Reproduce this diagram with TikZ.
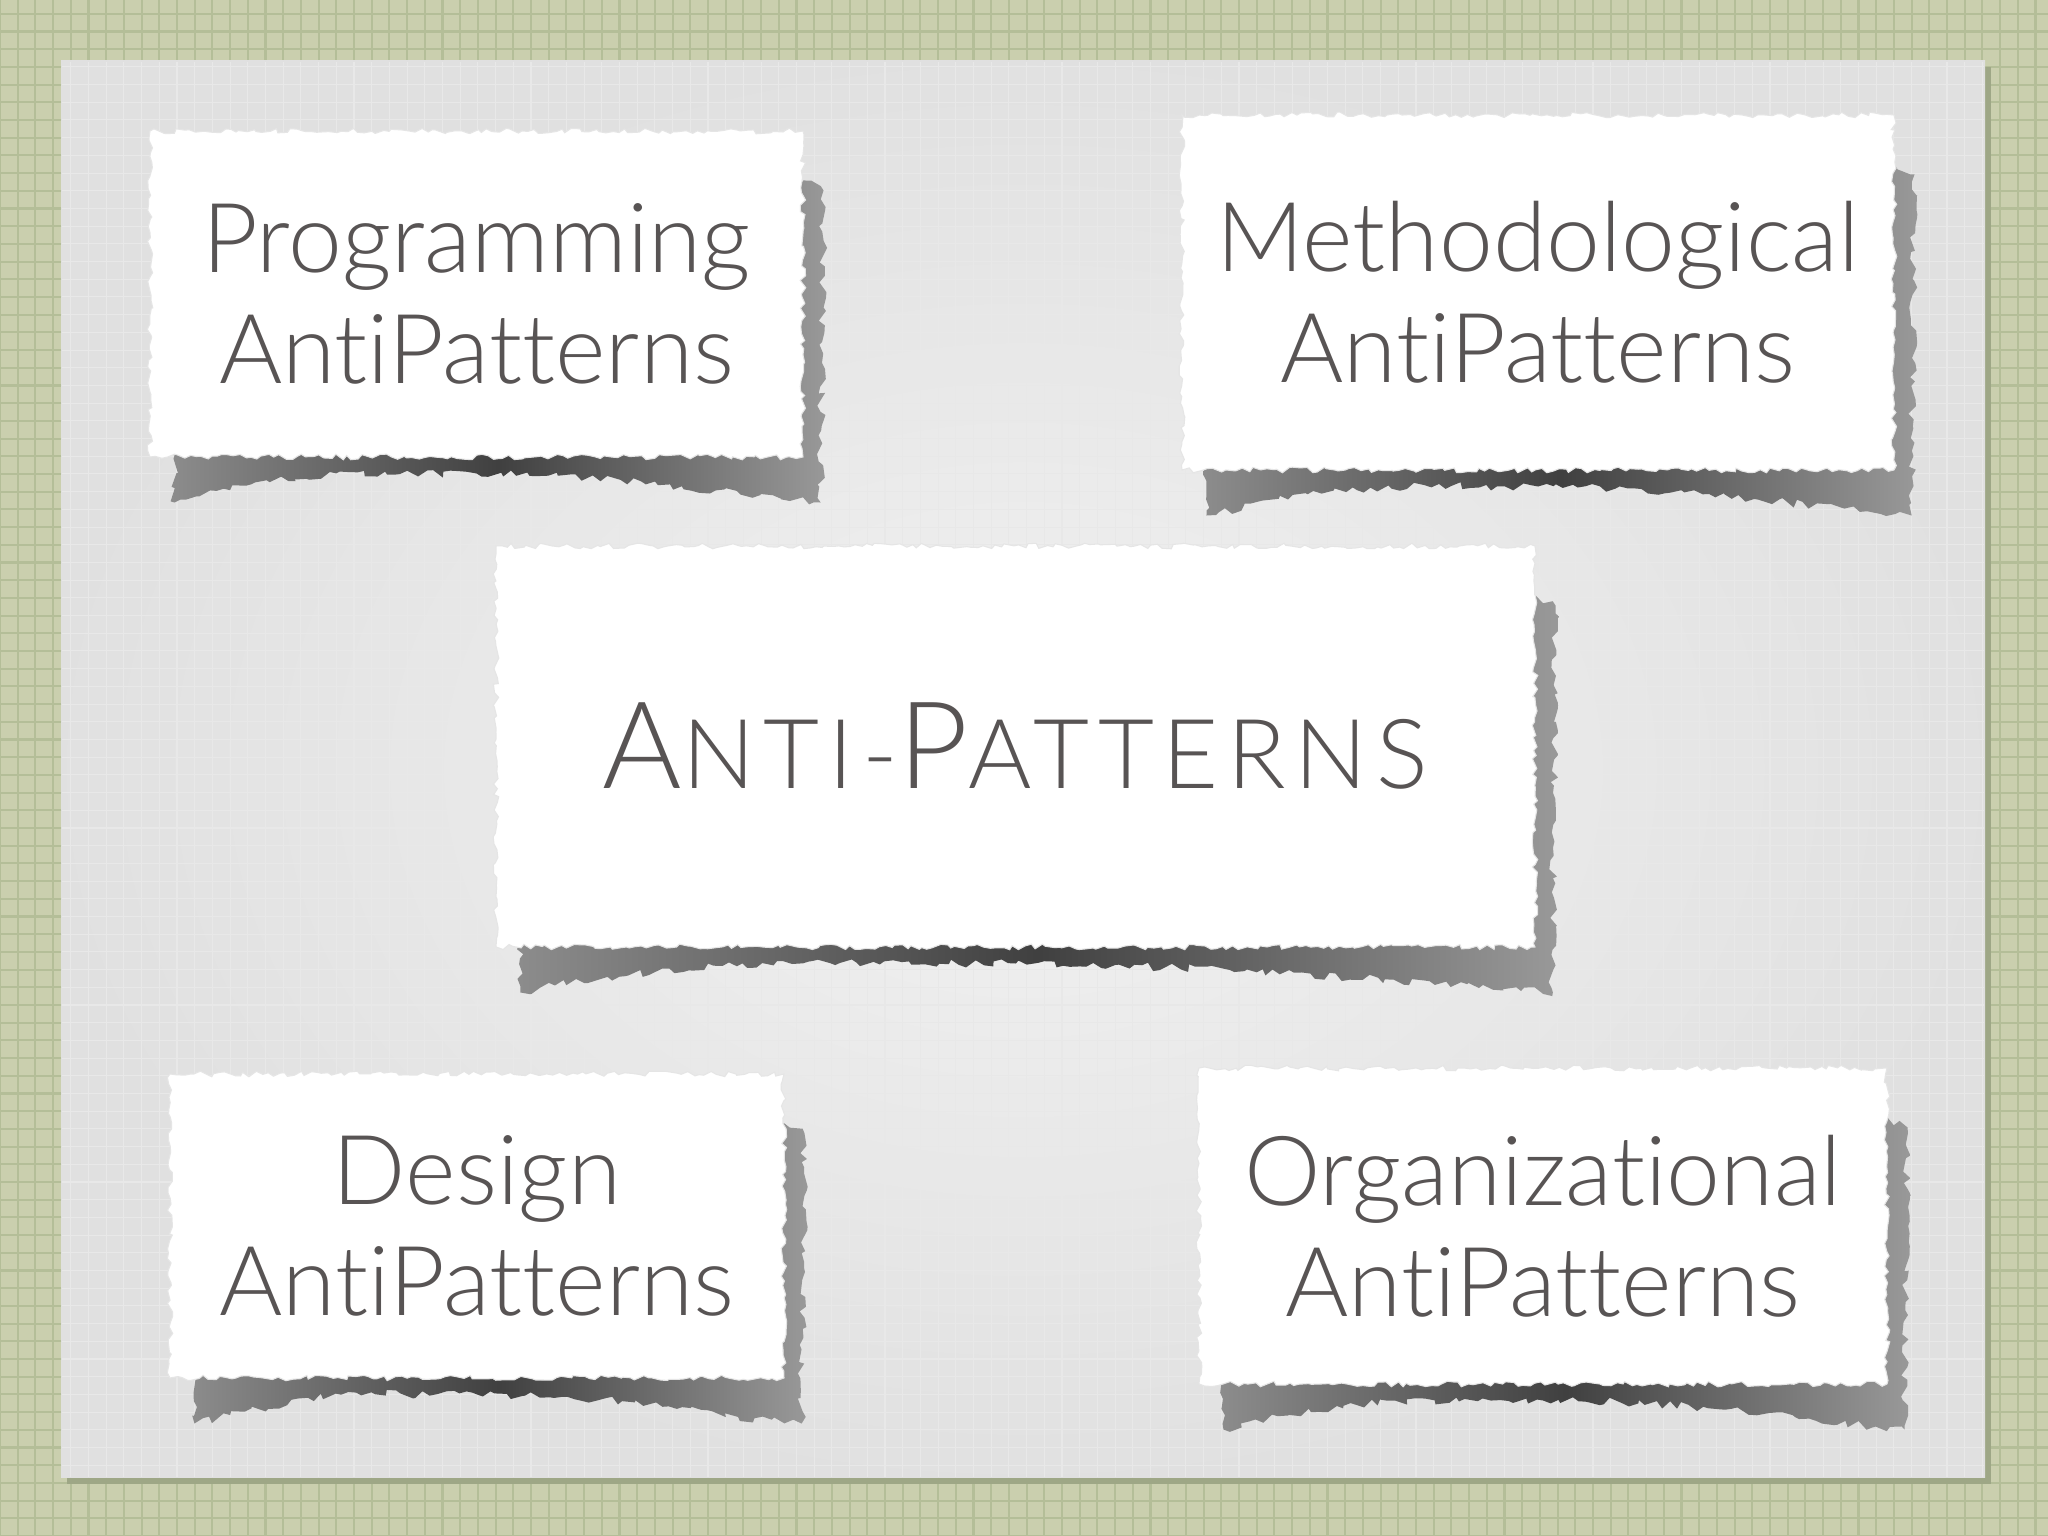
\documentclass[tikz,border=0pt]{standalone}
\usepackage{fontspec}
\setmainfont{Lato Light}[Ligatures={NoCommon,NoContextual}]
\usetikzlibrary{positioning, decorations.pathmorphing}
\definecolor{gridpaper}{RGB}{202,207,174}
\definecolor{gridline}{RGB}{180,190,152}
\definecolor{inkgrey}{RGB}{88,84,84}
\pgfdeclarelayer{back}
\pgfdeclarelayer{shade}
\pgfsetlayers{back,shade,main}
\tikzset{
 torn/.style={decorate, decoration={random steps, segment length=1.6pt, amplitude=0.8pt}},
 paper/.style={torn, fill=white, draw=black!10, line width=0.3pt, text=inkgrey, align=center,
   font=\fontsize{27.5}{31.5}\selectfont, inner sep=0pt},
 tornshade/.style={decorate, decoration={random steps, segment length=2pt, amplitude=1.2pt},
   left color=black!45, right color=black!40, middle color=black!75},
}
\newcommand{\papershadow}[1]{%
 \shade[tornshade] ([xshift=0.25cm,yshift=0.3cm]#1.south west)
   -- ([xshift=0.25cm,yshift=-0.45cm]#1.south west)
   .. controls +(1.5,0.35) and +(-1.5,0) .. ([yshift=-0.16cm]#1.south)
   .. controls +(1.5,0) and +(-1.2,0.1) .. ([xshift=0.17cm,yshift=-0.45cm]#1.south east)
   -- ([xshift=0.2cm,yshift=-0.6cm]#1.north east) -- ([yshift=-0.5cm]#1.north east) -- cycle;}
\newcommand{\bigsc}{\fontsize{34.5}{40}\selectfont}
\newcommand{\smallsc}{\fontsize{27.5}{40}\selectfont}

\begin{document}
\begin{tikzpicture}
 \pgfmathsetseed{7}
 \useasboundingbox (0,0) rectangle (20.48,15.36);
 \node[paper, minimum width=6.53cm, minimum height=3.26cm] (prog) at (4.765,12.42) {Programming\\AntiPatterns};
 \node[paper, minimum width=7.12cm, minimum height=3.55cm] (meth) at (15.38,12.435) {Methodological\\AntiPatterns};
 \node[paper, minimum width=10.39cm, minimum height=4.01cm] (anti) at (10.155,7.895)
   {\addfontfeatures{LetterSpace=9}\bigsc A\smallsc NTI-\bigsc P\smallsc ATTERNS};
 \node[paper, minimum width=6.14cm, minimum height=3.04cm] (design) at (4.77,3.10) {Design\\AntiPatterns};
 \node[paper, minimum width=6.88cm, minimum height=3.16cm] (org) at (15.43,3.10) {Organizational\\AntiPatterns};
 \begin{pgfonlayer}{back}
  \fill[gridpaper] (0,0) rectangle (20.48,15.36);
  \draw[gridline, line width=0.6pt, step=0.177] (0,0) grid (20.48,15.36);
  \fill[black!12!gridline] (0.67,0.52) rectangle (19.91,14.69);
  \shade[inner color=black!5, outer color=black!12] (0.61,0.58) rectangle (19.85,14.75);
  \draw[black!9, line width=0.3pt, step=0.177] (0.62,0.59) grid (19.84,14.74);
 \end{pgfonlayer}
 \begin{pgfonlayer}{shade}
  \papershadow{prog}
  \papershadow{meth}
  \papershadow{anti}
  \papershadow{design}
  \papershadow{org}
 \end{pgfonlayer}
\end{tikzpicture}
\end{document}
